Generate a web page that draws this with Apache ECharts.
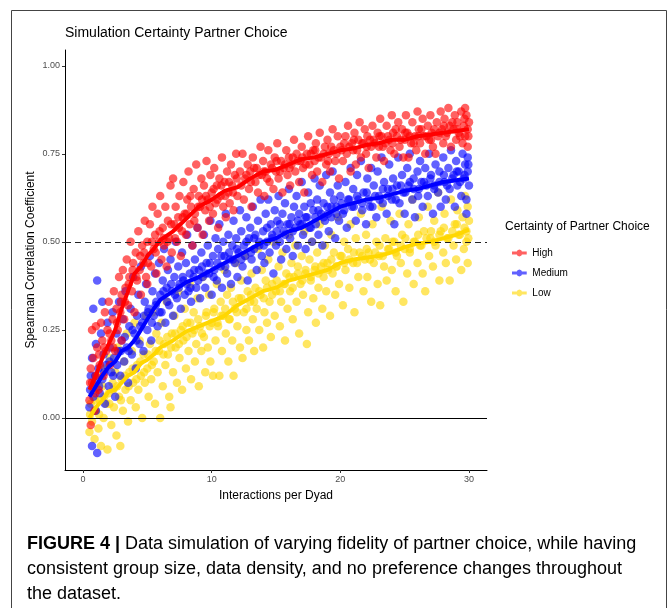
<!DOCTYPE html>
<html><head><meta charset="utf-8">
<script src="https://cdn.jsdelivr.net/npm/echarts@6/dist/echarts.min.js"></script>
<style>html,body{margin:0;padding:0;background:#fff}#c{width:670px;height:608px}</style>
</head><body><div id="c"></div>
<script>
const categories = ['High','Medium','Low'];
const colors = ['#FF0000','#0000FF','#FFD700'];
const xTicks = [0,10,20,30];
const yTicks = [0,0.25,0.5,0.75,1];
const refLines = [0,0.5];

const highPts = [[0.5,0.05],[0.6,0.14],[0.7,0.1],[0.7,0.25],[0.8,0.17],[0.9,0.02],[1.0,0.12],[1.0,0.26],[1.1,0.2],[1.2,0.08],[1.3,0.15],[1.4,0.27],[1.5,0.22],[0.6,-0.02],
[1.6,0.12],[1.7,0.3],[1.8,0.19],[1.9,0.25],[2.0,0.33],[2.1,0.15],[2.2,0.22],[2.3,0.28],[2.4,0.36],[2.5,0.19],[2.6,0.31],[2.7,0.25],[2.8,0.4],[2.9,0.3],[3.0,0.22],[3.0,0.35],
[3.1,0.42],[3.2,0.28],[3.3,0.37],[3.4,0.45],[3.5,0.32],[3.6,0.4],[3.7,0.5],[3.8,0.36],[3.9,0.44],[4.0,0.3],[4.1,0.47],[4.2,0.39],[4.3,0.53],[4.4,0.42],[4.5,0.35],[4.6,0.49],[4.7,0.44],[4.8,0.56],[4.9,0.4],[5.0,0.5],[5.0,0.38],
[5.2,0.55],[5.3,0.43],[5.4,0.6],[5.5,0.48],[5.6,0.52],[5.7,0.41],[5.8,0.58],[5.9,0.5],[6.0,0.63],[6.1,0.45],[6.2,0.54],[6.3,0.49],[6.4,0.6],[6.5,0.43],[6.6,0.56],[6.7,0.51],[6.8,0.66],[6.9,0.47],[7.0,0.68],[7.1,0.55],[7.2,0.6],[7.3,0.5],[7.4,0.57],[7.5,0.63],[7.6,0.46],[7.7,0.53],[7.8,0.67],[7.9,0.58],[8.0,0.52],
[8.1,0.62],[8.2,0.7],[8.3,0.55],[8.4,0.6],[8.5,0.49],[8.6,0.65],[8.7,0.58],[8.8,0.72],[8.9,0.54],[9.0,0.63],[9.1,0.6],[9.2,0.68],[9.3,0.52],[9.4,0.66],[9.5,0.59],[9.6,0.73],[9.7,0.62],[9.8,0.56],[9.9,0.69],[10.0,0.64],[10.1,0.58],[10.2,0.71],[10.3,0.61],[10.4,0.66],[10.5,0.54],[10.6,0.68],[10.7,0.63],[10.8,0.74],[10.9,0.6],[11.0,0.67],[11.1,0.57],[11.2,0.7],[11.3,0.64],[11.4,0.61],[11.5,0.72],[11.6,0.66],[11.7,0.59],[11.8,0.69],[11.9,0.75],[12.0,0.63],
[12.2,0.7],[12.4,0.75],[12.5,0.62],[12.6,0.68],[12.8,0.72],[12.9,0.65],[13.0,0.7],[13.1,0.6],[13.2,0.74],[13.4,0.67],[13.5,0.71],[13.6,0.64],[13.8,0.77],[13.9,0.69],[14.0,0.73],[14.1,0.63],[14.2,0.7],[14.4,0.76],[14.5,0.67],[14.6,0.72],[14.8,0.65],[14.9,0.74],[15.0,0.7],[15.1,0.78],[15.2,0.68],[15.4,0.73],[15.5,0.64],[15.6,0.71],[15.8,0.76],[15.9,0.69],[16.0,0.74],[16.1,0.66],[16.2,0.72],[16.4,0.79],[16.5,0.7],[16.6,0.75],[16.8,0.67],[16.9,0.73],[17.0,0.77],[17.1,0.71],[17.2,0.64],[17.4,0.75],[17.5,0.8],[17.6,0.72],[17.8,0.69],[17.9,0.76],[18.0,0.73],[18.1,0.78],[18.2,0.7],[18.4,0.81],[18.5,0.74],[18.6,0.67],[18.8,0.77],[18.9,0.72],[19.0,0.79],[19.1,0.75],[19.2,0.7],[19.4,0.82],[19.5,0.76],[19.6,0.73],[19.8,0.8],[19.9,0.68],[20.0,0.77],
[20.2,0.73],[20.4,0.8],[20.5,0.75],[20.6,0.83],[20.8,0.7],[20.9,0.78],[21.0,0.76],[21.1,0.81],[21.2,0.72],[21.4,0.79],[21.5,0.84],[21.6,0.74],[21.8,0.78],[21.9,0.82],[22.0,0.75],[22.1,0.8],[22.2,0.71],[22.4,0.77],[22.5,0.83],[22.6,0.79],[22.8,0.74],[22.9,0.81],[23.0,0.77],[23.1,0.85],[23.2,0.8],[23.4,0.73],[23.5,0.78],[23.6,0.83],[23.8,0.79],[23.9,0.76],[24.0,0.86],[24.1,0.81],[24.2,0.75],[24.4,0.8],[24.5,0.84],[24.6,0.77],[24.8,0.82],[24.9,0.74],[25.0,0.79],[25.1,0.86],[25.2,0.81],[25.3,0.74],[25.5,0.78],[25.6,0.84],[25.8,0.8],[25.9,0.76],[26.0,0.87],[26.1,0.82],[26.2,0.78],[26.4,0.85],[26.5,0.8],[26.6,0.75],[26.8,0.83],[26.9,0.79],[27.0,0.86],[27.1,0.81],[27.2,0.77],[27.4,0.75],[27.5,0.84],[27.6,0.8],[27.8,0.87],[27.9,0.82],[28.0,0.78],[28.1,0.85],[28.2,0.8],[28.4,0.88],[28.5,0.83],[28.6,0.77],[28.8,0.82],[28.9,0.86],[29.0,0.79],[29.1,0.84],[29.2,0.81],[29.4,0.87],[29.5,0.78],[29.6,0.83],[29.7,0.8],[29.8,0.86],[29.9,0.82],[30.0,0.84],[29.9,0.77],[29.7,0.88],
[0.55,0.1],[0.95,0.07],[1.25,0.18],[1.65,0.2],[2.05,0.24],[2.35,0.2],[2.65,0.27],[2.95,0.33],[3.25,0.33],[3.55,0.38],[3.85,0.42],[4.15,0.4],[4.45,0.46],[4.75,0.47],[5.05,0.44],[5.35,0.5],[5.65,0.47],[5.95,0.53],[6.25,0.51],[6.55,0.5],[6.85,0.55],[7.15,0.51],[7.45,0.54],[7.75,0.57],[8.05,0.58],[8.35,0.63],[8.65,0.56],[8.95,0.6],[9.25,0.62],[9.55,0.63],[9.85,0.6],[10.15,0.65],[10.45,0.62],[10.75,0.66],[11.05,0.63],[11.35,0.67],[11.65,0.64],[11.95,0.68],[12.3,0.66],[12.7,0.69],[13.05,0.67],[13.3,0.71],[13.7,0.69],[14.05,0.7],[14.3,0.68],[14.7,0.71],[15.05,0.73],[15.3,0.7],[15.7,0.72],[16.05,0.71],[16.3,0.74],[16.7,0.73],[17.05,0.74],[17.3,0.72],[17.7,0.75],[18.05,0.76],[18.3,0.74],[18.7,0.75],[19.05,0.73],[19.3,0.77],[19.7,0.75],[20.1,0.76],[20.3,0.78],[20.7,0.77],[21.05,0.79],[21.3,0.76],[21.7,0.78],[22.05,0.77],[22.3,0.79],[22.7,0.78],[23.05,0.8],[23.3,0.77],[23.7,0.8],[24.05,0.78],[24.3,0.82],[24.7,0.79],[25.05,0.81],[25.4,0.8],[25.7,0.78],[26.05,0.8],[26.3,0.82],[26.7,0.8],[27.05,0.79],[27.3,0.82],[27.7,0.81],[28.05,0.83],[28.3,0.81],[28.7,0.84],[29.05,0.82],[29.3,0.8],[29.65,0.85],[29.95,0.8]];

const mediumPts = [[0.5,0.03],[0.6,0.12],[0.7,-0.08],[0.7,0.17],[0.8,0.06],[0.8,0.31],[0.9,0.1],[1.0,0.02],[1.0,0.21],[1.1,0.39],[1.1,-0.1],[1.2,0.14],[1.3,0.07],[1.4,0.24],[1.5,0.33],[1.5,0.11],[1.6,0.18],[1.7,0.04],[1.8,0.15],[1.9,0.27],[2.0,0.09],
[2.1,0.2],[2.2,0.13],[2.3,0.3],[2.4,0.17],[2.5,0.06],[2.6,0.24],[2.7,0.19],[2.8,0.33],[2.9,0.12],[3.0,0.22],[3.1,0.28],[3.2,0.16],[3.3,0.36],[3.4,0.2],[3.5,0.1],[3.6,0.26],[3.7,0.31],[3.8,0.18],[3.9,0.4],[4.0,0.24],[4.1,0.14],[4.2,0.29],[4.3,0.35],[4.4,0.21],[4.5,0.43],[4.6,0.27],[4.7,0.19],[4.8,0.33],[4.9,0.38],[5.0,0.25],
[5.1,0.31],[5.2,0.46],[5.3,0.22],[5.4,0.36],[5.5,0.29],[5.6,0.41],[5.7,0.33],[5.8,0.26],[5.9,0.44],[6.0,0.35],[6.1,0.3],[6.2,0.39],[6.3,0.48],[6.4,0.27],[6.5,0.37],[6.6,0.42],[6.7,0.32],[6.8,0.45],[6.9,0.36],[7.0,0.29],[7.1,0.4],[7.2,0.5],[7.3,0.34],[7.4,0.43],[7.5,0.38],[7.6,0.31],[7.7,0.47],[7.8,0.39],[7.9,0.35],[8.0,0.44],[8.1,0.52],[8.2,0.36],[8.3,0.41],[8.4,0.33],[8.5,0.49],[8.6,0.4],[8.7,0.45],[8.8,0.37],[8.9,0.54],[9.0,0.42],
[9.1,0.34],[9.2,0.47],[9.3,0.4],[9.4,0.52],[9.5,0.37],[9.6,0.44],[9.7,0.49],[9.8,0.41],[9.9,0.56],[10.0,0.35],[10.1,0.46],[10.2,0.42],[10.3,0.51],[10.4,0.39],[10.5,0.48],[10.6,0.55],[10.7,0.43],[10.8,0.37],[10.9,0.5],[11.0,0.46],[11.1,0.58],[11.2,0.41],[11.3,0.52],[11.4,0.45],[11.5,0.38],[11.6,0.49],[11.7,0.56],[11.8,0.44],[11.9,0.51],[12.0,0.4],[12.1,0.47],[12.2,0.59],[12.3,0.53],[12.4,0.43],[12.5,0.49],[12.6,0.46],[12.7,0.57],[12.8,0.39],[12.9,0.51],[13.0,0.54],[13.1,0.45],[13.2,0.6],[13.3,0.48],[13.4,0.52],[13.5,0.42],[13.6,0.56],[13.7,0.49],[13.8,0.62],[13.9,0.46],[14.0,0.53],
[14.1,0.44],[14.2,0.58],[14.3,0.5],[14.4,0.62],[14.5,0.47],[14.6,0.55],[14.7,0.52],[14.8,0.41],[14.9,0.59],[15.0,0.49],[15.1,0.56],[15.2,0.63],[15.3,0.5],[15.4,0.45],[15.5,0.58],[15.6,0.53],[15.7,0.61],[15.8,0.48],[15.9,0.55],[16.0,0.65],[16.1,0.51],[16.2,0.57],[16.3,0.46],[16.4,0.6],[16.5,0.54],[16.6,0.63],[16.7,0.49],[16.8,0.58],[16.9,0.55],[17.0,0.67],[17.1,0.52],[17.2,0.6],[17.3,0.48],[17.4,0.57],[17.5,0.64],[17.6,0.54],[17.7,0.61],[17.8,0.5],[17.9,0.59],[18.0,0.68],[18.1,0.55],[18.2,0.62],[18.3,0.52],[18.4,0.66],[18.5,0.58],[18.6,0.49],[18.7,0.61],[18.8,0.56],[18.9,0.69],[19.0,0.6],[19.1,0.53],[19.2,0.64],[19.3,0.57],[19.4,0.7],[19.5,0.62],[19.6,0.51],[19.7,0.6],[19.8,0.66],[19.9,0.56],[20.0,0.63],
[20.2,0.58],[20.4,0.67],[20.5,0.54],[20.6,0.62],[20.8,0.71],[20.9,0.6],[21.0,0.65],[21.2,0.56],[21.3,0.69],[21.4,0.62],[21.6,0.73],[21.7,0.59],[21.8,0.64],[22.0,0.55],[22.1,0.68],[22.2,0.62],[22.4,0.71],[22.5,0.6],[22.6,0.66],[22.8,0.57],[22.9,0.7],[23.0,0.63],[23.2,0.74],[23.3,0.61],[23.4,0.67],[23.6,0.58],[23.7,0.65],[23.8,0.72],[24.0,0.62],[24.1,0.68],[24.2,0.55],[24.4,0.66],[24.5,0.74],[24.6,0.61],[24.8,0.69],[24.9,0.64],[25.0,0.58],[25.2,0.71],[25.3,0.66],[25.4,0.75],[25.6,0.62],[25.7,0.68],[25.8,0.57],[26.0,0.7],[26.1,0.65],[26.2,0.73],[26.4,0.6],[26.5,0.67],[26.6,0.71],[26.8,0.63],[26.9,0.75],[27.0,0.68],[27.2,0.58],[27.3,0.66],[27.4,0.72],[27.6,0.64],[27.7,0.7],[27.8,0.6],[28.0,0.74],[28.1,0.67],[28.2,0.62],[28.4,0.71],[28.5,0.65],[28.6,0.76],[28.8,0.69],[28.9,0.6],[29.0,0.73],[29.1,0.66],[29.2,0.7],[29.4,0.63],[29.5,0.75],[29.6,0.68],[29.7,0.72],[29.8,0.62],[29.9,0.7],[30.0,0.66],[29.9,0.74],[29.8,0.58],
[0.55,0.08],[0.95,0.12],[1.25,0.09],[1.65,0.13],[2.05,0.16],[2.35,0.12],[2.65,0.15],[2.95,0.19],[3.25,0.23],[3.55,0.19],[3.85,0.25],[4.15,0.22],[4.45,0.26],[4.75,0.29],[5.05,0.3],[5.35,0.27],[5.65,0.32],[5.95,0.3],[6.25,0.36],[6.55,0.33],[6.85,0.38],[7.15,0.35],[7.45,0.37],[7.75,0.4],[8.05,0.38],[8.35,0.37],[8.65,0.42],[8.95,0.39],[9.25,0.43],[9.55,0.41],[9.85,0.44],[10.15,0.4],[10.45,0.44],[10.75,0.46],[11.05,0.43],[11.35,0.47],[11.65,0.45],[11.95,0.48],[12.3,0.45],[12.7,0.5],[13.05,0.47],[13.3,0.51],[13.7,0.5],[14.05,0.49],[14.3,0.54],[14.7,0.51],[15.05,0.53],[15.3,0.55],[15.7,0.52],[16.05,0.55],[16.3,0.53],[16.7,0.56],[17.05,0.55],[17.3,0.57],[17.7,0.54],[18.05,0.57],[18.3,0.59],[18.7,0.57],[19.05,0.58],[19.3,0.6],[19.7,0.58],[20.1,0.61],[20.3,0.59],[20.7,0.62],[21.05,0.6],[21.3,0.63],[21.7,0.61],[22.05,0.64],[22.3,0.6],[22.7,0.63],[23.05,0.62],[23.3,0.65],[23.7,0.63],[24.05,0.65],[24.3,0.62],[24.7,0.66],[25.05,0.64],[25.4,0.67],[25.7,0.65],[26.05,0.63],[26.3,0.67],[26.7,0.66],[27.05,0.69],[27.3,0.65],[27.7,0.67],[28.05,0.69],[28.3,0.66],[28.7,0.68],[29.05,0.7],[29.3,0.67],[29.65,0.69],[29.95,0.72]];

const lowPts = [[0.5,-0.04],[0.6,0.04],[0.7,-0.01],[0.8,0.08],[0.9,-0.06],[1.0,0.02],[1.1,0.12],[1.2,-0.03],[1.3,0.05],[1.4,-0.08],[1.5,0.09],[1.6,0.0],[1.7,0.14],[1.8,0.04],[1.9,-0.09],[2.0,0.07],[2.1,0.17],[2.2,-0.02],[2.3,0.1],[2.4,0.03],[2.5,0.13],[2.6,-0.05],[2.7,0.2],[2.8,0.06],[2.9,-0.08],[3.0,0.11],[3.1,0.02],[3.2,0.16],[3.3,0.08],[3.4,0.24],[3.5,-0.01],[3.6,0.13],[3.7,0.05],[3.8,0.19],[3.9,0.1],[4.0,0.27],[4.1,0.03],[4.2,0.15],[4.3,0.08],[4.4,0.22],[4.5,0.12],[4.6,0.0],[4.7,0.18],[4.8,0.1],[4.9,0.29],[5.0,0.14],
[5.1,0.06],[5.2,0.21],[5.3,0.11],[5.4,0.3],[5.5,0.16],[5.6,0.04],[5.7,0.24],[5.8,0.13],[5.9,0.19],[6.0,0.0],[6.1,0.27],[6.2,0.09],[6.3,0.21],[6.4,0.15],[6.5,0.33],[6.6,0.18],[6.7,0.06],[6.8,0.03],[6.9,0.24],[7.0,0.13],[7.1,0.29],[7.2,0.2],[7.3,0.1],[7.4,0.36],[7.5,0.17],[7.6,0.25],[7.7,0.08],[7.8,0.22],[7.9,0.31],[8.0,0.14],[8.1,0.27],[8.2,0.19],[8.3,0.38],[8.4,0.11],[8.5,0.24],[8.6,0.3],[8.7,0.16],[8.8,0.21],[8.9,0.34],[9.0,0.09],[9.1,0.26],[9.2,0.19],[9.3,0.4],[9.4,0.23],[9.5,0.13],[9.6,0.3],[9.7,0.2],[9.8,0.35],[9.9,0.16],[10.0,0.27],
[10.1,0.12],[10.2,0.31],[10.3,0.22],[10.4,0.38],[10.5,0.26],[10.6,0.12],[10.7,0.33],[10.8,0.19],[10.9,0.29],[11.0,0.42],[11.1,0.24],[11.2,0.35],[11.3,0.16],[11.4,0.28],[11.5,0.37],[11.6,0.22],[11.7,0.12],[11.8,0.31],[11.9,0.44],[12.0,0.26],[12.1,0.34],[12.2,0.2],[12.3,0.39],[12.4,0.17],[12.5,0.3],[12.6,0.46],[12.7,0.25],[12.8,0.36],[12.9,0.22],[13.0,0.33],[13.1,0.41],[13.2,0.28],[13.3,0.19],[13.4,0.37],[13.5,0.31],[13.6,0.48],[13.7,0.25],[13.8,0.35],[13.9,0.42],[14.0,0.2],[14.1,0.3],[14.2,0.39],[14.3,0.27],[14.4,0.45],[14.5,0.33],[14.6,0.23],[14.7,0.38],[14.8,0.5],[14.9,0.29],[15.0,0.36],[15.2,0.43],[15.3,0.26],[15.4,0.33],[15.5,0.47],[15.6,0.38],[15.7,0.22],[15.8,0.41],[15.9,0.31],[16.0,0.52],
[16.1,0.36],[16.2,0.44],[16.3,0.28],[16.4,0.4],[16.5,0.49],[16.6,0.33],[16.7,0.43],[16.8,0.24],[16.9,0.38],[17.0,0.46],[17.1,0.35],[17.2,0.53],[17.3,0.41],[17.4,0.21],[17.5,0.3],[17.6,0.45],[17.7,0.39],[17.8,0.5],[17.9,0.34],[18.0,0.42],[18.1,0.27],[18.2,0.47],[18.3,0.37],[18.4,0.55],[18.5,0.43],[18.6,0.31],[18.7,0.4],[18.8,0.49],[18.9,0.36],[19.0,0.44],[19.2,0.29],[19.3,0.52],[19.4,0.41],[19.5,0.47],[19.6,0.35],[19.7,0.43],[19.8,0.57],[19.9,0.38],[20.0,0.46],[20.2,0.32],[20.3,0.5],[20.4,0.42],[20.6,0.48],[20.7,0.37],[20.8,0.55],[21.0,0.44],[21.1,0.3],[21.2,0.51],[21.4,0.4],[21.5,0.47],[21.6,0.58],[21.8,0.36],[21.9,0.45],[22.0,0.52],
[22.1,0.4],[22.2,0.47],[22.4,0.33],[22.5,0.55],[22.6,0.44],[22.8,0.5],[22.9,0.38],[23.0,0.46],[23.1,0.32],[23.2,0.6],[23.4,0.43],[23.5,0.51],[23.6,0.39],[23.8,0.48],[23.9,0.56],[24.0,0.42],[24.2,0.5],[24.3,0.36],[24.4,0.46],[24.6,0.58],[24.7,0.44],[24.8,0.52],[24.9,0.33],[25.0,0.48],[25.2,0.41],[25.3,0.55],[25.4,0.47],[25.6,0.62],[25.7,0.38],[25.8,0.5],[26.0,0.44],[26.1,0.57],[26.2,0.49],[26.4,0.41],[26.5,0.53],[26.6,0.36],[26.8,0.6],[26.9,0.46],[27.0,0.51],[27.2,0.43],[27.3,0.56],[27.4,0.49],[27.6,0.64],[27.7,0.39],[27.8,0.53],[28.0,0.47],[28.1,0.58],[28.2,0.44],[28.4,0.51],[28.5,0.39],[28.6,0.62],[28.8,0.49],[28.9,0.55],[29.0,0.45],[29.1,0.59],[29.2,0.52],[29.4,0.42],[29.5,0.57],[29.6,0.48],[29.7,0.63],[29.8,0.53],[29.9,0.44],[30.0,0.56],[29.9,0.6],[29.8,0.5],
[0.55,0.01],[0.95,0.05],[1.25,0.01],[1.65,0.06],[2.05,0.04],[2.35,0.08],[2.65,0.09],[2.95,0.05],[3.25,0.12],[3.55,0.09],[3.85,0.14],[4.15,0.11],[4.45,0.16],[4.75,0.13],[5.05,0.18],[5.35,0.15],[5.65,0.19],[5.95,0.22],[6.25,0.18],[6.55,0.23],[6.85,0.2],[7.15,0.24],[7.45,0.21],[7.75,0.26],[8.05,0.23],[8.35,0.27],[8.65,0.25],[8.95,0.28],[9.25,0.24],[9.55,0.29],[9.85,0.26],[10.15,0.3],[10.45,0.27],[10.75,0.29],[11.05,0.31],[11.35,0.28],[11.65,0.33],[11.95,0.3],[12.3,0.34],[12.7,0.31],[13.05,0.35],[13.3,0.33],[13.7,0.36],[14.05,0.34],[14.3,0.37],[14.7,0.35],[15.05,0.39],[15.3,0.36],[15.7,0.38],[16.05,0.4],[16.3,0.37],[16.7,0.41],[17.05,0.39],[17.3,0.42],[17.7,0.4],[18.05,0.43],[18.3,0.41],[18.7,0.44],[19.05,0.42],[19.3,0.45],[19.7,0.43],[20.1,0.46],[20.3,0.44],[20.7,0.45],[21.05,0.47],[21.3,0.44],[21.7,0.46],[22.05,0.48],[22.3,0.45],[22.7,0.47],[23.05,0.49],[23.3,0.46],[23.7,0.48],[24.05,0.5],[24.3,0.47],[24.7,0.49],[25.05,0.51],[25.4,0.48],[25.7,0.5],[26.05,0.52],[26.3,0.49],[26.7,0.51],[27.05,0.53],[27.3,0.5],[27.7,0.52],[28.05,0.54],[28.3,0.51],[28.7,0.53],[29.05,0.55],[29.3,0.52],[29.65,0.54],[29.95,0.51]];

const lineX = [0.5,1,1.5,2,2.5,3,3.5,4,4.5,5,5.5,6,7,8,9,10,11,12,13,14,15,16,17,18,19,20,21,22,23,24,25,26,27,28,29,30];
const highLineY = [0.08,0.12,0.17,0.21,0.25,0.31,0.36,0.41,0.43,0.46,0.48,0.505,0.53,0.565,0.6,0.62,0.645,0.655,0.68,0.7,0.705,0.72,0.735,0.74,0.75,0.76,0.765,0.775,0.78,0.79,0.79,0.8,0.805,0.81,0.815,0.82];
const mediumLineY = [0.06,0.09,0.12,0.145,0.16,0.19,0.2,0.22,0.25,0.28,0.31,0.335,0.36,0.385,0.4,0.42,0.44,0.46,0.48,0.5,0.51,0.53,0.54,0.56,0.58,0.6,0.61,0.62,0.625,0.635,0.645,0.65,0.66,0.67,0.675,0.68];
const lowLineY = [0.0,0.03,0.05,0.075,0.08,0.1,0.12,0.13,0.155,0.165,0.18,0.2,0.22,0.245,0.26,0.275,0.29,0.32,0.34,0.36,0.37,0.39,0.4,0.41,0.42,0.44,0.45,0.455,0.46,0.47,0.485,0.495,0.5,0.51,0.52,0.535];

const captionLines = [
  ['FIGURE 4 | ', 'Data simulation of varying fidelity of partner choice, while having'],
  ['', 'consistent group size, data density, and no preference changes throughout'],
  ['', 'the dataset.']
];

const ptsByCat = [highPts, mediumPts, lowPts];
const lineByCat = [highLineY, mediumLineY, lowLineY];
const FONT = '"Liberation Sans", Arial, sans-serif';

const series = [];
[2,1,0].forEach(i => {
  series.push({
    name: categories[i], type: 'scatter', data: ptsByCat[i],
    symbolSize: 8.5, itemStyle: {color: colors[i], opacity: 0.62},
    emphasis: {disabled: true}, z: 2
  });
});
[2,1,0].forEach(i => {
  series.push({
    name: categories[i], type: 'line', data: lineX.map((x,k)=>[x, lineByCat[i][k]]),
    symbol: 'none', lineStyle: {color: colors[i], width: 4}, itemStyle:{color: colors[i]},
    emphasis: {disabled: true}, z: 3
  });
});
series.push({
  type: 'line', data: [], silent: true,
  markLine: {
    silent: true, symbol: 'none', label: {show: false},
    data: [
      {yAxis: refLines[0], lineStyle: {color: '#000', type: 'solid', width: 1}},
      {yAxis: refLines[1], lineStyle: {color: '#222', type: [6,4], width: 1.2}}
    ]
  }
});

const capFont = '"Liberation Sans Narrow", "Liberation Sans", Arial, sans-serif';
const capRich = {
  b: {fontFamily: capFont, fontWeight: 'bold', fontSize: 18, color:'#231f20'},
  n: {fontFamily: capFont, fontSize: 18, color:'#2b2b2b'}
};
const graphics = [
  {type: 'rect', shape: {x: 11.5, y: 10.5, width: 655, height: 640}, style: {fill: 'none', stroke: '#444', lineWidth: 1}, silent: true},
  {type: 'text', left: 65, top: 26, style: {text: 'Simulation Certainty Partner Choice', font: '14px "Liberation Sans", Arial, sans-serif', fill: '#000'}},
  {type: 'text', left: 505, top: 221, style: {text: 'Certainty of Partner Choice', font: '12px "Liberation Sans", Arial, sans-serif', fill: '#000'}}
];
captionLines.forEach((ln, k) => {
  graphics.push({type: 'text', left: 27, top: 535 + k*25,
    style: {text: (ln[0] ? '{b|' + ln[0] + '}' : '') + '{n|' + ln[1] + '}', rich: capRich}});
});

const chart = echarts.init(document.getElementById('c'), null, {renderer: 'canvas'});
chart.setOption({
  animation: false,
  backgroundColor: '#fff',
  grid: {left: 65, right: 183, top: 50, bottom: 138, containLabel: false},
  xAxis: {
    type: 'value', min: -1.4, max: 31.4,
    name: 'Interactions per Dyad', nameLocation: 'middle', nameGap: 20,
    nameTextStyle: {fontFamily: FONT, fontSize: 12, color: '#000'},
    axisLine: {show: true, onZero: false, lineStyle: {color: '#000', width: 1}},
    axisTick: {show: true, length: 3, lineStyle: {color: '#333'}, customValues: xTicks},
    axisLabel: {customValues: xTicks, fontFamily: FONT, fontSize: 9, color: '#4d4d4d', margin: 5, formatter: v => String(v)},
    splitLine: {show: false}
  },
  yAxis: {
    type: 'value', min: -0.148, max: 1.045,
    name: 'Spearman Correlation Coefficient', nameLocation: 'middle', nameGap: 28, nameMoveOverlap: false,
    nameTextStyle: {fontFamily: FONT, fontSize: 12, color: '#000'},
    axisLine: {show: true, onZero: false, lineStyle: {color: '#000', width: 1}},
    axisTick: {show: true, length: 3, lineStyle: {color: '#333'}, customValues: yTicks},
    axisLabel: {customValues: yTicks, fontFamily: FONT, fontSize: 9, color: '#4d4d4d', margin: 5, formatter: v => v.toFixed(2)},
    splitLine: {show: false}
  },
  legend: {
    data: categories, left: 507, top: 243, orient: 'vertical', itemGap: 10,
    itemWidth: 16, itemHeight: 7, selectedMode: false,
    icon: 'path://M0,2.5L5.2,2.5L6,1L8,0.2L10,1L10.8,2.5L16,2.5L16,5.5L10.8,5.5L10,7L8,7.8L6,7L5.2,5.5L0,5.5Z',
    textStyle: {fontFamily: FONT, fontSize: 10, color: '#000'}
  },
  graphic: graphics,
  series: series
});
</script></body></html>
